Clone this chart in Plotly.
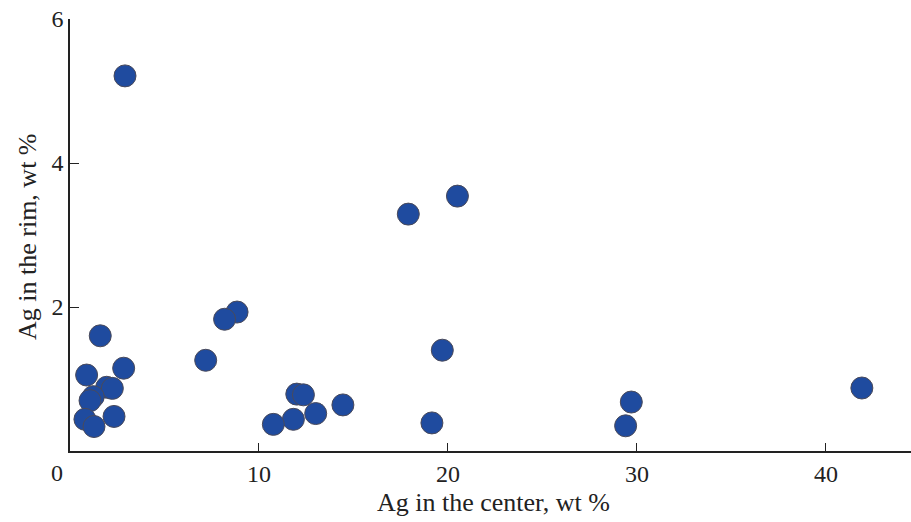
import plotly.graph_objects as go

ag_center = [2.91, 20.5, 17.9, 8.84, 8.18, 1.60, 19.7, 7.18, 2.84, 0.88,
             1.94, 2.24, 1.23, 1.06, 41.9, 12.0, 12.35, 29.7, 14.44, 13.0,
             2.33, 11.82, 0.79, 10.76, 19.15, 1.27, 29.4]
ag_rim = [5.21, 3.54, 3.29, 1.93, 1.83, 1.60, 1.40, 1.26, 1.15, 1.055,
          0.885, 0.87, 0.755, 0.70, 0.875, 0.79, 0.78, 0.68, 0.64, 0.52,
          0.48, 0.44, 0.44, 0.37, 0.39, 0.34, 0.35]

x_ticks = [10, 20, 30, 40]
y_ticks = [2, 4, 6]

font = dict(family="Liberation Serif", size=24, color="#222222")
title_font = dict(family="Liberation Serif", size=26, color="#222222")

fig = go.Figure(go.Scatter(
    x=ag_center, y=ag_rim, mode="markers",
    marker=dict(size=22, color="#1f4b9f", line=dict(width=1, color="#4a4a5a")),
))

pw, ph = 911 - 70, 522 - 19 - 71

fig.update_layout(
    width=911, height=522,
    margin=dict(l=70, r=0, t=19, b=71),
    paper_bgcolor="white", plot_bgcolor="white",
    showlegend=False,
    font=font,
    xaxis=dict(range=[0, 44.5], tickvals=x_ticks, ticks="inside", ticklen=8,
               tickcolor="#222", showline=True, linecolor="#222", linewidth=1.5,
               showgrid=False, zeroline=False, tickfont=font),
    yaxis=dict(range=[0, 6], tickvals=y_ticks, ticks="inside", ticklen=9,
               tickcolor="#222", showline=True, linecolor="#222", linewidth=1.5,
               showgrid=False, zeroline=False, tickfont=font),
    annotations=[
        dict(text="0", x=(57 - 70) / pw, y=(451 - 473) / ph, xref="paper", yref="paper",
             showarrow=False, font=font, xanchor="center", yanchor="middle"),
        dict(text="Ag in the center, wt %", x=(493 - 70) / pw, y=(451 - 502) / ph,
             xref="paper", yref="paper", showarrow=False, font=title_font,
             xanchor="center", yanchor="middle"),
        dict(text="Ag in the rim, wt %", x=(27 - 70) / pw, y=(451 - 237) / ph,
             xref="paper", yref="paper", showarrow=False, font=title_font, textangle=-90,
             xanchor="center", yanchor="middle"),
    ],
)

fig.write_html("out.html")
